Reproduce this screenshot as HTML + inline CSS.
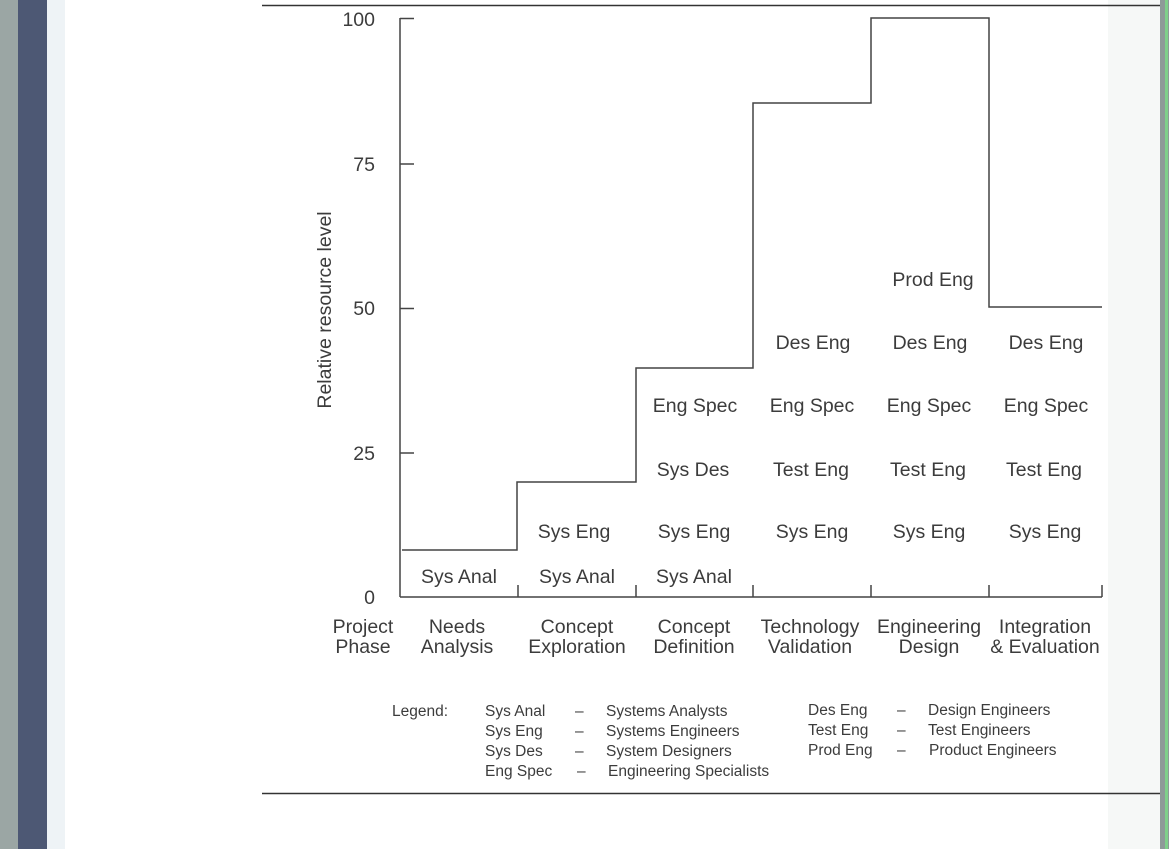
<!DOCTYPE html>
<html><head><meta charset="utf-8"><style>
html,body{margin:0;padding:0;width:1169px;height:849px;overflow:hidden;background:#fff}
svg{display:block}
text{font-family:"Liberation Sans",Arial,sans-serif;fill:#3c3c3c}
</style></head><body>
<svg width="1169" height="849" viewBox="0 0 1169 849" xmlns="http://www.w3.org/2000/svg">
<rect x="0" y="0" width="1169" height="849" fill="#ffffff"/>
<rect x="0" y="0" width="18" height="849" fill="#9ba6a4"/>
<rect x="18" y="0" width="29" height="849" fill="#4d5874"/>
<rect x="47" y="0" width="18" height="849" fill="#eef3f6"/>
<rect x="1108" y="0" width="52" height="849" fill="#f6f8f7"/>
<rect x="1160" y="0" width="9" height="849" fill="#8e9a98"/>
<rect x="1165" y="0" width="3" height="849" fill="#7fd08a"/>
<line x1="262" y1="5.5" x2="1160" y2="5.5" stroke="#333" stroke-width="1.5"/>
<line x1="262" y1="793.5" x2="1160" y2="793.5" stroke="#333" stroke-width="1.5"/>
<g stroke="#444" stroke-width="1.5" fill="none">
<line x1="400" y1="18" x2="400" y2="597"/>
<line x1="400" y1="597" x2="1102" y2="597"/>
<line x1="400" y1="18.5" x2="414" y2="18.5"/>
<line x1="400" y1="164" x2="414" y2="164"/>
<line x1="400" y1="308.5" x2="414" y2="308.5"/>
<line x1="400" y1="453" x2="414" y2="453"/>
<line x1="518" y1="585" x2="518" y2="597"/>
<line x1="636" y1="585" x2="636" y2="597"/>
<line x1="753" y1="585" x2="753" y2="597"/>
<line x1="871" y1="585" x2="871" y2="597"/>
<line x1="989" y1="585" x2="989" y2="597"/>
<line x1="1102" y1="585" x2="1102" y2="597"/>
<polyline points="402,550 517,550 517,482 636,482 636,368 753,368 753,103 871,103 871,18 989,18 989,307 1102,307"/>
</g>
<g font-size="19.5" text-anchor="end">
<text x="375" y="26">100</text>
<text x="375" y="171">75</text>
<text x="375" y="315">50</text>
<text x="375" y="460">25</text>
<text x="375" y="604">0</text>
</g>
<text transform="translate(331,310) rotate(-90)" font-size="19.5" text-anchor="middle">Relative resource level</text>
<g font-size="19.5" text-anchor="middle">
<text x="459" y="583">Sys Anal</text>
<text x="577" y="583">Sys Anal</text>
<text x="694" y="583">Sys Anal</text>
<text x="574" y="538">Sys Eng</text>
<text x="694" y="538">Sys Eng</text>
<text x="812" y="538">Sys Eng</text>
<text x="929" y="538">Sys Eng</text>
<text x="1045" y="538">Sys Eng</text>
<text x="693" y="476">Sys Des</text>
<text x="811" y="476">Test Eng</text>
<text x="928" y="476">Test Eng</text>
<text x="1044" y="476">Test Eng</text>
<text x="695" y="412">Eng Spec</text>
<text x="812" y="412">Eng Spec</text>
<text x="929" y="412">Eng Spec</text>
<text x="1046" y="412">Eng Spec</text>
<text x="813" y="349">Des Eng</text>
<text x="930" y="349">Des Eng</text>
<text x="1046" y="349">Des Eng</text>
<text x="933" y="286">Prod Eng</text>
<text x="363" y="633">Project</text><text x="363" y="653">Phase</text>
<text x="457" y="633">Needs</text><text x="457" y="653">Analysis</text>
<text x="577" y="633">Concept</text><text x="577" y="653">Exploration</text>
<text x="694" y="633">Concept</text><text x="694" y="653">Definition</text>
<text x="810" y="633">Technology</text><text x="810" y="653">Validation</text>
<text x="929" y="633">Engineering</text><text x="929" y="653">Design</text>
<text x="1045" y="633">Integration</text><text x="1045" y="653">&amp; Evaluation</text>
</g>
<g font-size="15.5">
<text x="392" y="716">Legend:</text>
<text x="485" y="716">Sys Anal</text><text x="575" y="716">–</text><text x="606" y="716">Systems Analysts</text>
<text x="485" y="736">Sys Eng</text><text x="575" y="736">–</text><text x="606" y="736">Systems Engineers</text>
<text x="485" y="756">Sys Des</text><text x="575" y="756">–</text><text x="606" y="756">System Designers</text>
<text x="485" y="776">Eng Spec</text><text x="577" y="776">–</text><text x="608" y="776">Engineering Specialists</text>
<text x="808" y="715">Des Eng</text><text x="897" y="715">–</text><text x="928" y="715">Design Engineers</text>
<text x="808" y="735">Test Eng</text><text x="897" y="735">–</text><text x="928" y="735">Test Engineers</text>
<text x="808" y="755">Prod Eng</text><text x="897" y="755">–</text><text x="929" y="755">Product Engineers</text>
</g>
</svg>
</body></html>
